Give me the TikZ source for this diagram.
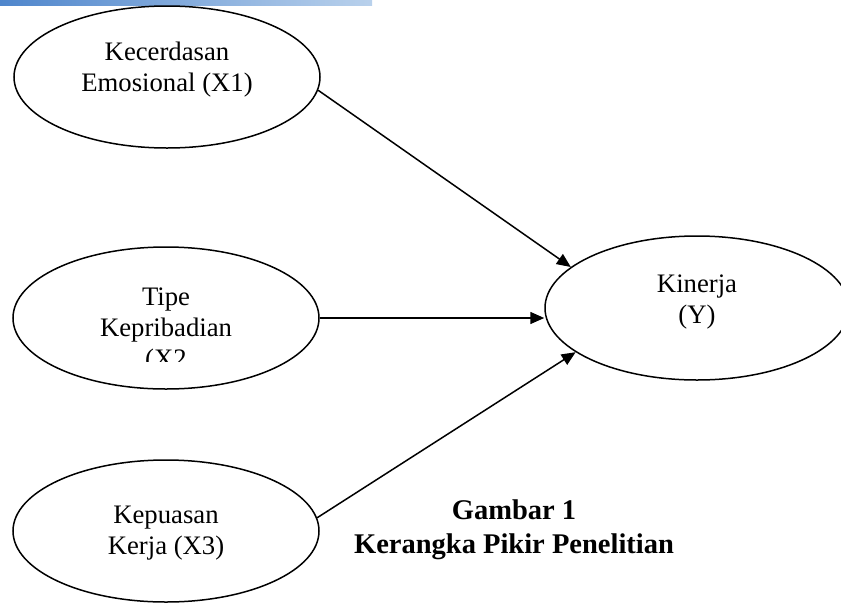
\documentclass[tikz,border=0pt]{standalone}
\usepackage{fontspec}
\setmainfont{Liberation Serif}
\usepackage{tikz}
\usetikzlibrary{shapes.geometric,arrows.meta}
\definecolor{barblue}{HTML}{4F86CC}
\definecolor{barlight}{HTML}{B9D1EC}
\tikzset{>={Triangle[length=14pt,width=12pt]}}
\tikzset{%
    konstruk/.style={ellipse,draw,line width=1.5pt,inner sep=0pt,
        minimum width=306pt,minimum height=142pt},
    teks/.style={align=center,inner sep=0pt,font=\fontsize{26.7}{31}\selectfont},
    judul/.style={align=center,inner sep=0pt,font=\bfseries\fontsize{28.5}{34}\selectfont},
    panah/.style={->,line width=1.5pt}
}

\begin{document}
\begin{tikzpicture}[x=1pt,y=-1pt]
\useasboundingbox (0,0) rectangle (841,603);
\shade[left color=barblue,right color=barlight] (0,0) rectangle (372,5);

\node[konstruk] (x1) at (167,77) {};
\node[konstruk] (x2) at (166,318) {};
\node[konstruk] (x3) at (166,531) {};
\node[konstruk,minimum width=304pt,minimum height=144pt] (y) at (697,308) {};

\node[teks] (x1teks) at (167,70) {Kecerdasan\\Emosional (X1)};
\begin{scope}
\clip (0,240) rectangle (330,361);
\node[teks] (x2teks) at (166,330) {Tipe\\Kepribadian\\(X2};
\end{scope}
\node[teks] (x3teks) at (166,533) {Kepuasan\\Kerja (X3)};
\node[teks] (yteks) at (697,302) {Kinerja\\(Y)};

\draw[panah] (x1.-5) -- (y.162);
\draw[panah] (x2.east) -- (x2.east -| y.west);
\draw[panah] (x3.5) -- (y.200);

\node[judul] (judul) at (514,530) {Gambar 1\\Kerangka Pikir Penelitian};
\end{tikzpicture}
\end{document}
